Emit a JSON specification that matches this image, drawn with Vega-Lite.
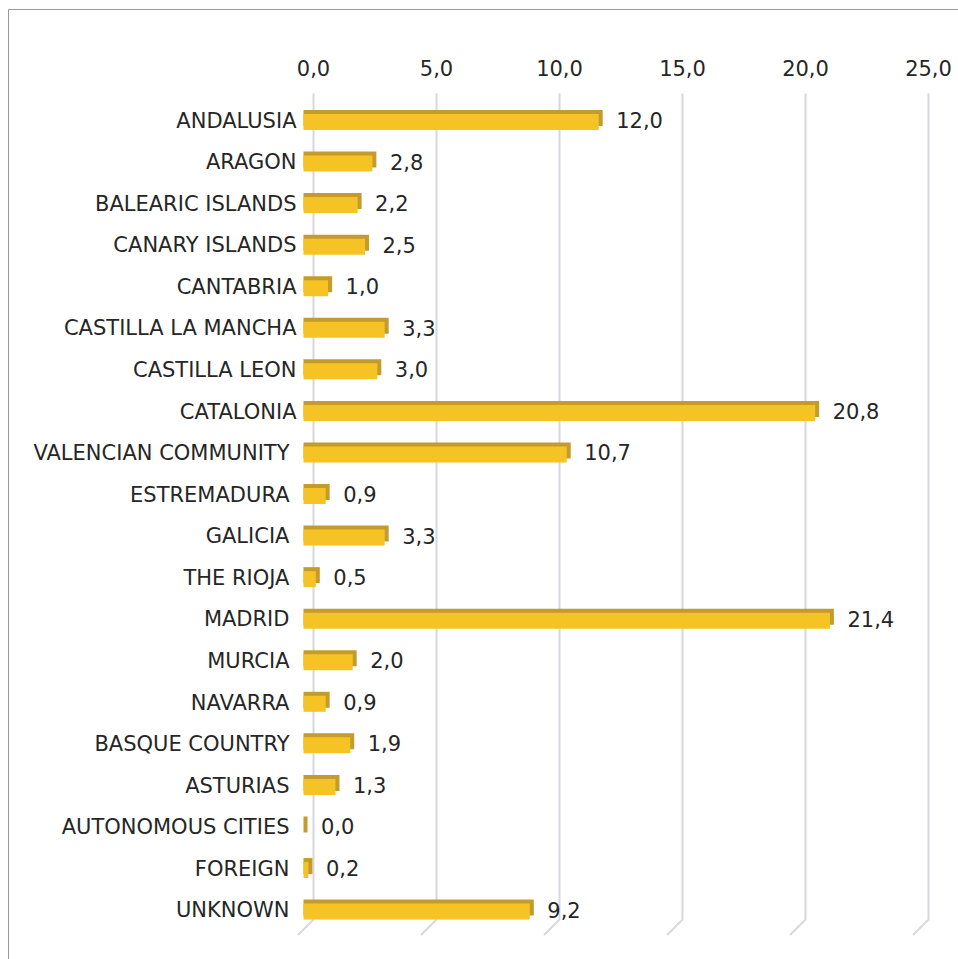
{
  "$schema": "https://vega.github.io/schema/vega-lite/v6.json",
  "width": 951,
  "height": 951,
  "autosize": {"type": "none"},
  "padding": {"left": 8, "top": 9, "right": 0, "bottom": 0},
  "background": "white",
  "config": {
    "view": {"stroke": "#9A9A9A", "strokeWidth": 1},
    "font": "DejaVu Sans",
    "locale": {"number": {"decimal": ",", "thousands": ".", "grouping": [3], "currency": ["", " €"]}}
  },
  "datasets": {
    "regions": [
      {"region": "ANDALUSIA", "value": 12.0},
      {"region": "ARAGON", "value": 2.8},
      {"region": "BALEARIC ISLANDS", "value": 2.2},
      {"region": "CANARY ISLANDS", "value": 2.5},
      {"region": "CANTABRIA", "value": 1.0},
      {"region": "CASTILLA LA MANCHA", "value": 3.3},
      {"region": "CASTILLA LEON", "value": 3.0},
      {"region": "CATALONIA", "value": 20.8},
      {"region": "VALENCIAN COMMUNITY", "value": 10.7},
      {"region": "ESTREMADURA", "value": 0.9},
      {"region": "GALICIA", "value": 3.3},
      {"region": "THE RIOJA", "value": 0.5},
      {"region": "MADRID", "value": 21.4},
      {"region": "MURCIA", "value": 2.0},
      {"region": "NAVARRA", "value": 0.9},
      {"region": "BASQUE COUNTRY", "value": 1.9},
      {"region": "ASTURIAS", "value": 1.3},
      {"region": "AUTONOMOUS CITIES", "value": 0.0},
      {"region": "FOREIGN", "value": 0.2},
      {"region": "UNKNOWN", "value": 9.2}
    ],
    "gridticks": [
      {"tick": 0}, {"tick": 5}, {"tick": 10}, {"tick": 15}, {"tick": 20}, {"tick": 25}
    ]
  },
  "data": {"name": "regions"},
  "encoding": {
    "y": {
      "field": "region",
      "type": "nominal",
      "sort": null,
      "scale": {
        "domain": ["ANDALUSIA", "ARAGON", "BALEARIC ISLANDS", "CANARY ISLANDS", "CANTABRIA", "CASTILLA LA MANCHA", "CASTILLA LEON", "CATALONIA", "VALENCIAN COMMUNITY", "ESTREMADURA", "GALICIA", "THE RIOJA", "MADRID", "MURCIA", "NAVARRA", "BASQUE COUNTRY", "ASTURIAS", "AUTONOMOUS CITIES", "FOREIGN", "UNKNOWN"],
        "range": [84, 911],
        "paddingInner": 0.1,
        "paddingOuter": 0
      },
      "axis": {
        "orient": "left",
        "offset": -288,
        "title": null,
        "domain": false,
        "ticks": false,
        "grid": false,
        "labelFontSize": 21,
        "labelColor": "#262626",
        "labelPadding": {"expr": "indexof(['ANDALUSIA','ARAGON','BALEARIC ISLANDS','CANARY ISLANDS','CANTABRIA','CASTILLA LA MANCHA','CASTILLA LEON','CATALONIA'], datum.value) >= 0 ? 0 : 7"},
        "labelOffset": 10,
        "labelLimit": 400
      }
    }
  },
  "layer": [
    {
      "data": {"name": "gridticks"},
      "mark": {"type": "rule", "color": "#D6D8DE", "strokeWidth": 2, "x2Offset": -15, "yOffset": 18.7, "y2Offset": 33.7},
      "encoding": {
        "x": {"field": "tick", "type": "quantitative"},
        "x2": {"field": "tick"},
        "y": {"datum": "UNKNOWN", "type": "nominal"},
        "y2": {"datum": "UNKNOWN"}
      }
    },
    {
      "mark": {"type": "bar", "color": "#C49B2D", "size": 16, "xOffset": -5.5, "x2Offset": -9.5, "yOffset": 6.3},
      "encoding": {
        "x": {
          "field": "value",
          "type": "quantitative",
          "scale": {"domain": [0, 25], "range": [305, 920], "nice": false, "zero": true},
          "axis": {
            "orient": "top",
            "offset": -84,
            "title": null,
            "values": [0, 5, 10, 15, 20, 25],
            "format": ".1f",
            "domain": false,
            "ticks": false,
            "grid": true,
            "gridColor": "#D6D8DE",
            "gridWidth": 2,
            "labelFontSize": 21,
            "labelColor": "#262626",
            "labelPadding": 14,
            "labelFlush": false
          }
        },
        "x2": {"datum": 0}
      }
    },
    {
      "mark": {"type": "bar", "color": "#F6C325", "size": 16, "xOffset": -9.5, "x2Offset": -9.5, "yOffset": 10.3},
      "encoding": {
        "x": {"field": "value", "type": "quantitative"},
        "x2": {"datum": 0}
      }
    },
    {
      "mark": {"type": "text", "align": "left", "baseline": "middle", "dx": 8, "yOffset": 10.3, "fontSize": 21, "color": "#262626"},
      "encoding": {
        "x": {"field": "value", "type": "quantitative"},
        "text": {"field": "value", "type": "quantitative", "format": ".1f"}
      }
    }
  ]
}
